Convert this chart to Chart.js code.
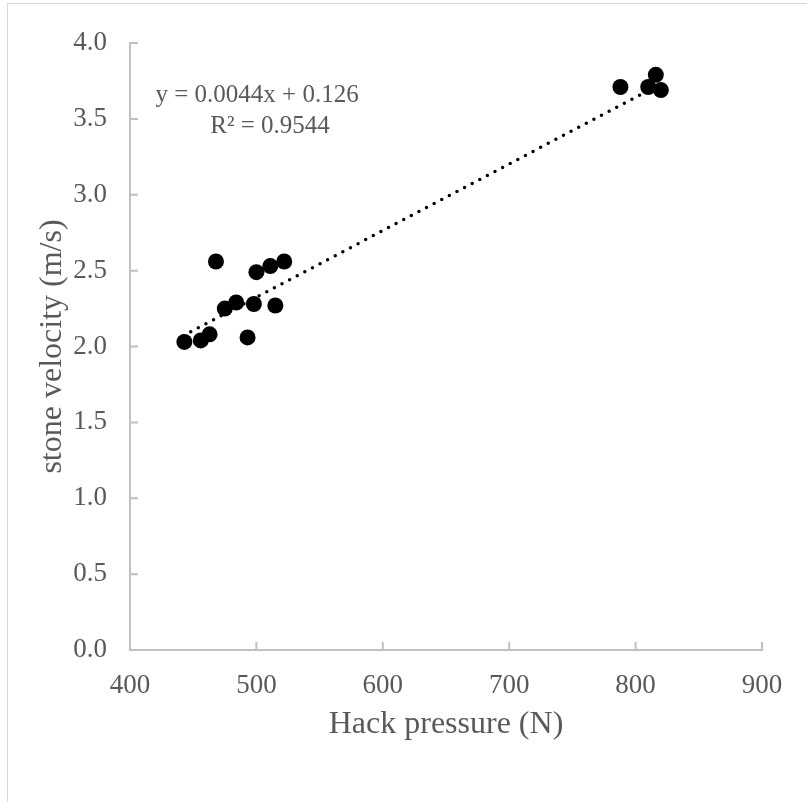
<!DOCTYPE html>
<html>
<head>
<meta charset="utf-8">
<script src="https://cdn.jsdelivr.net/npm/chart.js@4"></script>
<style>
  body { margin: 0; background: #fff; }
  #wrap { position: relative; width: 807px; height: 802px; }
  #frame { position: absolute; left: 7px; top: 3px; right: -10px; bottom: -10px; border: 1.5px solid #d9d9d9; }
  canvas { position: absolute; left: 0; top: 0; }
</style>
</head>
<body>
<div id="wrap">
  <div id="frame"></div>
  <canvas id="chart" width="807" height="802"></canvas>
</div>
<script>
// valeurs
const hackPressure = [443, 456, 463, 468, 475, 484, 498, 493, 500, 511, 522, 515, 788, 810, 816, 820];
const stoneVelocity = [2.03, 2.04, 2.08, 2.56, 2.25, 2.29, 2.28, 2.06, 2.49, 2.53, 2.56, 2.27, 3.71, 3.71, 3.79, 3.69];

// extrémités de la droite de tendance
const trendX = [442, 820];
const trendY = [2.07, 3.73];

// graduations
const xTicks = [400, 500, 600, 700, 800, 900];
const yTicks = [0, 0.5, 1, 1.5, 2, 2.5, 3, 3.5, 4];

const equationLines = ['y = 0.0044x + 0.126', 'R\u00B2 = 0.9544'];

const textColor = '#595959';
const axisColor = '#c0c0c0';
const serif = '"Liberation Serif", "Times New Roman", serif';

// petits traits de graduation tournés vers l'intérieur (style Excel)
const insideTicks = {
  id: 'insideTicks',
  afterDraw(chart) {
    const ctx = chart.ctx;
    const xs = chart.scales.x, ys = chart.scales.y;
    ctx.save();
    ctx.strokeStyle = axisColor;
    ctx.lineWidth = 2;
    ctx.beginPath();
    xTicks.forEach(v => {
      const px = xs.getPixelForValue(v);
      ctx.moveTo(px, ys.bottom);
      ctx.lineTo(px, ys.bottom - 8);
    });
    yTicks.forEach(v => {
      const py = ys.getPixelForValue(v);
      ctx.moveTo(xs.left, py);
      ctx.lineTo(xs.left + 8, py);
    });
    ctx.stroke();
    ctx.restore();
  }
};

// équation de la tendance
const equationLabel = {
  id: 'equationLabel',
  afterDraw(chart) {
    const ctx = chart.ctx;
    const xs = chart.scales.x, ys = chart.scales.y;
    ctx.save();
    ctx.fillStyle = textColor;
    ctx.font = '25px ' + serif;
    ctx.textAlign = 'center';
    ctx.textBaseline = 'middle';
    ctx.fillText(equationLines[0], xs.getPixelForValue(500.5), ys.getPixelForValue(3.657));
    ctx.fillText(equationLines[1], xs.getPixelForValue(510.8), ys.getPixelForValue(3.448));
    ctx.restore();
  }
};

const points = hackPressure.map((x, i) => ({ x: x, y: stoneVelocity[i] }));
const trend = trendX.map((x, i) => ({ x: x, y: trendY[i] }));

new Chart(document.getElementById('chart').getContext('2d'), {
  type: 'scatter',
  data: {
    datasets: [
      {
        data: points,
        backgroundColor: '#000000',
        borderColor: '#000000',
        pointRadius: 8,
        pointHoverRadius: 8,
        borderWidth: 0
      },
      {
        data: trend,
        showLine: true,
        pointRadius: 0,
        borderColor: '#000000',
        borderWidth: 3.5,
        borderDash: [0, 8.6],
        borderCapStyle: 'round',
        fill: false
      }
    ]
  },
  options: {
    responsive: false,
    animation: false,
    events: [],
    layout: { padding: { left: 0, top: 43, right: 45, bottom: 42 } },
    plugins: { legend: { display: false }, tooltip: { enabled: false } },
    scales: {
      x: {
        type: 'linear',
        min: 400,
        max: 900,
        afterBuildTicks: s => { s.ticks = xTicks.map(v => ({ value: v })); },
        afterFit: s => { s.height = 110; },
        grid: { display: false, drawTicks: false },
        border: { display: true, color: axisColor, width: 2 },
        ticks: { color: textColor, padding: 20, font: { family: serif, size: 27 }, maxRotation: 0 },
        title: {
          display: true,
          text: 'Hack pressure (N)',
          color: textColor,
          font: { family: serif, size: 32 },
          padding: { top: 0, bottom: 16 }
        }
      },
      y: {
        type: 'linear',
        min: 0,
        max: 4,
        afterBuildTicks: s => { s.ticks = yTicks.map(v => ({ value: v })); },
        afterFit: s => { s.width = 130; },
        grid: { display: false, drawTicks: false },
        border: { display: true, color: axisColor, width: 2 },
        ticks: {
          color: textColor,
          padding: 23,
          font: { family: serif, size: 27 },
          callback: v => Number(v).toFixed(1)
        },
        title: {
          display: true,
          text: 'stone velocity (m/s)',
          color: textColor,
          font: { family: serif, size: 32 },
          padding: { top: 33, bottom: 0 }
        }
      }
    }
  },
  plugins: [insideTicks, equationLabel]
});
</script>
</body>
</html>
